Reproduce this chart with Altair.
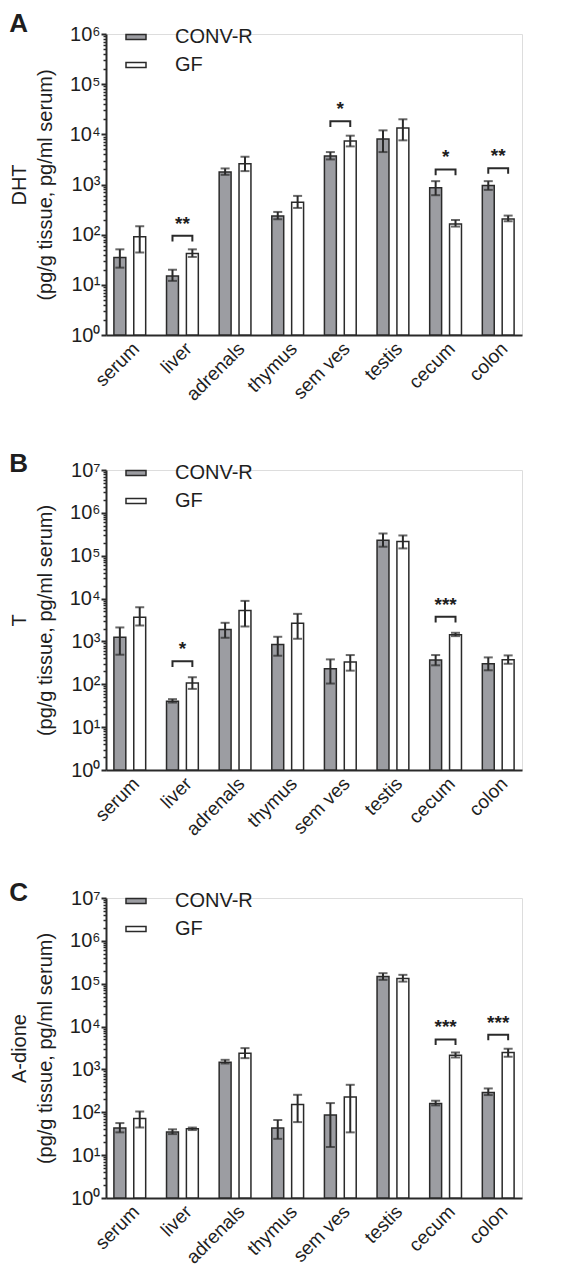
import altair as alt
import pandas as pd

FONT = "Liberation Sans"
DARK = "#2a2a2a"
BLACK = "#1e1e1e"
GRAY = "#9c9da2"

tissues = ["serum", "liver", "adrenals", "thymus", "sem ves", "testis", "cecum", "colon"]
groups = ["CONV-R", "GF"]

# Panel A: DHT
dht_conv = [35, 15, 1765, 236, 3690, 8070, 858, 955]
dht_conv_lo = [22, 12, 1560, 203, 3160, 4430, 612, 782]
dht_conv_hi = [51, 20, 2090, 284, 4430, 12000, 1166, 1166]
dht_gf = [91, 42, 2590, 443, 7360, 13390, 163, 206]
dht_gf_lo = [44, 36, 1850, 341, 5750, 7590, 145, 185]
dht_gf_hi = [147, 51, 3575, 593, 9400, 19950, 196, 240]
dht_sig_tissue = ["liver", "sem ves", "cecum", "colon"]
dht_sig_top = [95, 18200, 1995, 2120]
dht_sig_label = ["**", "*", "*", "**"]

# Panel B: T
t_conv = [1260, 40, 1900, 851, 231, 231000, 368, 302]
t_conv_lo = [490, 37.5, 1217, 464, 104, 162000, 277, 212]
t_conv_hi = [2120, 45, 2720, 1284, 381, 330000, 481, 424]
t_gf = [3680, 107, 5260, 2670, 331, 215000, 1430, 373]
t_gf_lo = [2355, 78, 2233, 1153, 208, 148000, 1330, 301]
t_gf_hi = [6290, 146, 8830, 4400, 481, 297000, 1590, 472]
t_sig_tissue = ["liver", "cecum"]
t_sig_top = [343, 3750]
t_sig_label = ["*", "***"]

# Panel C: A-dione
ad_conv = [43, 34.5, 1480, 43, 86, 147000, 161, 290]
ad_conv_lo = [34, 31, 1377, 24, 15.5, 123000, 145, 252]
ad_conv_hi = [56, 40, 1675, 66, 164, 176000, 186, 360]
ad_gf = [72, 41.3, 2400, 152, 226, 132000, 2155, 2490]
ad_gf_lo = [44, 38.5, 1834, 59, 34, 112000, 1900, 1977]
ad_gf_hi = [105, 44, 3140, 256, 438, 161000, 2485, 3040]
ad_sig_tissue = ["cecum", "colon"]
ad_sig_top = [5000, 6440]
ad_sig_label = ["***", "***"]

SUP = ["⁰", "¹", "²", "³", "⁴", "⁵", "⁶", "⁷"]


def panel(letter, ytitle, conv, conv_lo, conv_hi, gf, gf_lo, gf_hi,
          sig_t, sig_top, sig_lab, ymax_exp, height, drop, title_dy):
    df = pd.DataFrame({
        "tissue": tissues * 2,
        "group": [groups[0]] * len(tissues) + [groups[1]] * len(tissues),
        "value": conv + gf,
        "lo": conv_lo + gf_lo,
        "hi": conv_hi + gf_hi,
    })
    df["base"] = 1

    rows = []
    for t, top in zip(sig_t, sig_top):
        rows += [
            {"tissue": t, "group": groups[0], "v": top / drop, "o": 0},
            {"tissue": t, "group": groups[0], "v": top, "o": 1},
            {"tissue": t, "group": groups[1], "v": top, "o": 2},
            {"tissue": t, "group": groups[1], "v": top / drop, "o": 3},
        ]
    br = pd.DataFrame(rows)
    stars = pd.DataFrame({"tissue": sig_t, "v": sig_top, "lab": sig_lab})

    major = [10 ** k for k in range(ymax_exp + 1)]
    minor = [m * 10 ** k for k in range(ymax_exp) for m in range(2, 10)]
    dom = [1, 10 ** ymax_exp]
    yscale = alt.Scale(type="log", domain=dom, nice=False)

    x = alt.X("tissue:N", sort=tissues,
              scale=alt.Scale(paddingInner=0.396, paddingOuter=0.15),
              axis=alt.Axis(title=None, labelAngle=-45, ticks=False, labelFontSize=19,
                            labelFont=FONT, labelColor=BLACK, labelPadding=4,
                            domainColor=DARK, domainWidth=2))
    xo = alt.XOffset("group:N", sort=groups,
                     scale=alt.Scale(paddingInner=0.4, paddingOuter=0))

    label_expr = "'10' + " + str(SUP) + "[round(log(datum.value)/LN10)]"

    bars = alt.Chart(df).mark_bar(stroke=DARK, strokeWidth=1.5).encode(
        x=x, xOffset=xo,
        y=alt.Y("value:Q", scale=yscale,
                axis=alt.Axis(orient="left", values=major, labelExpr=label_expr,
                              title=ytitle, titleFontSize=20, titleFont=FONT,
                              titleFontWeight="normal", titleColor=BLACK,
                              titleLineHeight=26, titlePadding=14,
                              labelFontSize=20, labelFont=FONT, labelColor=BLACK,
                              labelPadding=1, tickSize=5, tickWidth=2, tickColor=DARK,
                              domainColor=DARK, domainWidth=2, grid=False)),
        y2=alt.Y2("base:Q"),
        color=alt.Color("group:N", sort=groups,
                        scale=alt.Scale(domain=groups, range=[GRAY, "#ffffff"]),
                        legend=alt.Legend(title=None, orient="none", legendX=20, legendY=-7,
                                          direction="vertical",
                                          symbolType="M-2,-0.5L2,-0.5L2,0.5L-2,0.5Z",
                                          symbolSize=100, symbolStrokeColor=DARK,
                                          symbolStrokeWidth=1.5, symbolOpacity=1,
                                          labelFontSize=20, labelFont=FONT, labelColor=BLACK,
                                          labelOffset=29, rowPadding=8, padding=0)),
    )

    err = alt.Chart(df).mark_rule(color=DARK, strokeWidth=2).encode(
        x=x, xOffset=xo,
        y=alt.Y("lo:Q", scale=yscale,
                axis=alt.Axis(orient="left", values=minor, labels=False, title=None,
                              domain=False, tickSize=3, tickWidth=1.5, tickColor=DARK,
                              grid=False)),
        y2=alt.Y2("hi:Q"),
    )

    caps = alt.Chart(df).transform_fold(["lo", "hi"], as_=["end", "cap"]).mark_tick(
        color=DARK, thickness=2, size=9).encode(
        x=x, xOffset=xo,
        y=alt.Y("cap:Q", scale=yscale, axis=None),
    )

    brackets = alt.Chart(br).mark_line(color=DARK, strokeWidth=2).encode(
        x=x, xOffset=xo,
        y=alt.Y("v:Q", scale=yscale, axis=None),
        detail="tissue:N",
        order="o:Q",
    )

    text = alt.Chart(stars).mark_text(fontSize=19, fontWeight="bold", font=FONT,
                                      color=BLACK, baseline="alphabetic", dy=-6).encode(
        x=x,
        y=alt.Y("v:Q", scale=yscale, axis=None),
        text="lab:N",
    )

    return alt.layer(bars, err, caps, brackets, text).resolve_axis(y="independent").properties(
        width=416, height=height,
        title=alt.TitleParams(letter, anchor="start", frame="bounds", fontSize=26,
                              fontWeight="bold", font=FONT, color=BLACK, offset=0,
                              dy=title_dy),
    )


pA = panel("A", ["DHT", "(pg/g tissue, pg/ml serum)"], dht_conv, dht_conv_lo, dht_conv_hi,
           dht_gf, dht_gf_lo, dht_gf_hi, dht_sig_tissue, dht_sig_top, dht_sig_label, 6, 301, 1.3, 13)
pB = panel("B", ["T", "(pg/g tissue, pg/ml serum)"], t_conv, t_conv_lo, t_conv_hi,
           t_gf, t_gf_lo, t_gf_hi, t_sig_tissue, t_sig_top, t_sig_label, 7, 300, 1.35, 17)
pC = panel("C", ["A-dione", "(pg/g tissue, pg/ml serum)"], ad_conv, ad_conv_lo, ad_conv_hi,
           ad_gf, ad_gf_lo, ad_gf_hi, ad_sig_tissue, ad_sig_top, ad_sig_label, 7, 300, 1.35, 18)

top_pair = alt.vconcat(pA, pB, spacing=45).resolve_scale(
    color="independent", y="independent").resolve_legend(color="independent")

chart = alt.vconcat(top_pair, pC, spacing=39).resolve_scale(
    color="independent", y="independent").resolve_legend(color="independent").properties(
    padding={"left": 0, "top": 2, "right": 0, "bottom": 0}).configure_view(stroke=None).configure(font=FONT)

chart.save("out.html", embed_options={"renderer": "svg", "actions": False})
